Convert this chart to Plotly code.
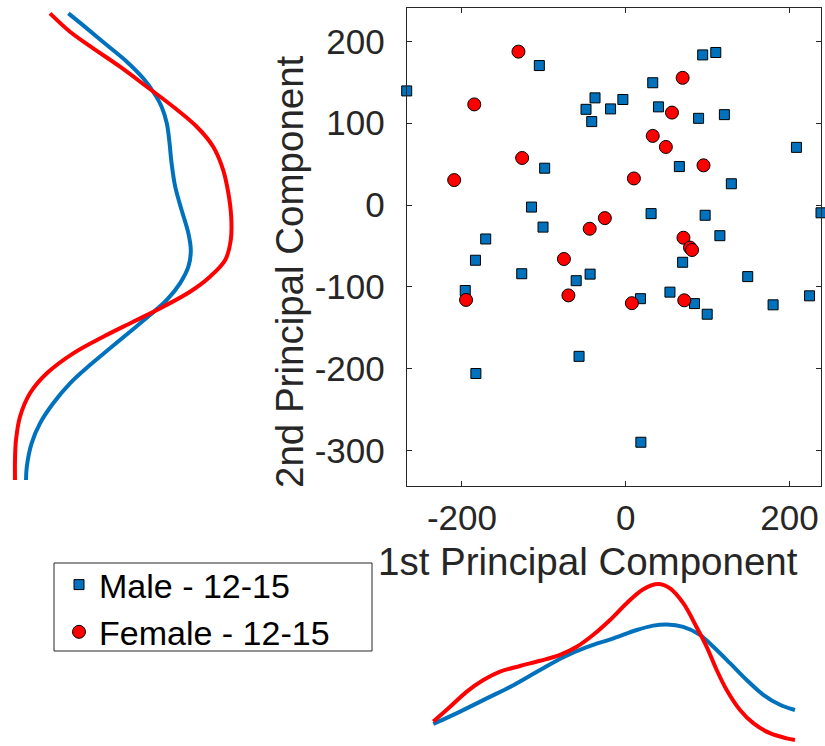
import plotly.graph_objects as go

# ---- scatter data: principal-component scores ----
male_pc1 = [-267.5, -105.5, 94, 110, 33, -37.5, -3.5, -48.5, -18.5, 40, -41.5, 89, 120.5,
            208.5, -99, 65.5, 129, -115, 31, 97, 238.5, -101, -171, 115,
            -183.5, 69.5, -127, -43.5, 149, -60.5, -196, 54, 18, 224.5, 84, 180, 99.5,
            -57, -183, 18.5]
male_pc2 = [139.5, 170.5, 183.5, 186.5, 149.5, 131, 129, 117, 117.5, 120, 102, 106, 110.5,
            70.5, 45, 47, 26, -2.5, -10.5, -12.5, -9.5, -27, -41.5, -37.5,
            -67.5, -70, -84, -84.5, -87.5, -92.5, -104.5, -106.5, -114.5, -111, -120.5,
            -122, -133.5, -185, -206, -290]

female_pc1 = [-131, -185, 69.5, 56.5, 33, 49, -126.5, 95, -209.5, 10, -25.5, -44, 70.5,
              78.5, 81, -75.5, -195, -70, 7.5, 71.5]
female_pc2 = [187.5, 123, 155.5, 113, 84.5, 71, 57.5, 48.5, 30.5, 32.5, -16, -29, -40,
              -52, -55, -66, -116, -110.5, -120, -116.5]

# ---- marginal density of PC1 (bottom panel, arbitrary units) ----
dens_x_grid_male = [-235, -202.3, -169.7, -137.2, -104.6, -76.2, -47.6, -15.1, 13.4, 33.7,
                    50.1, 70.3, 90.7, 107, 127.4, 147.7, 168, 188.4, 206.7]
dens_x_male = [0.55, 0.86, 1.19, 1.52, 1.90, 2.22, 2.47, 2.69, 2.90, 3.01,
               3.04, 2.98, 2.78, 2.48, 2.07, 1.65, 1.28, 1.03, 0.90]
dens_x_grid_female = [-235, -214.5, -194.1, -173.9, -153.5, -129.1, -104.6, -80.2, -59.8,
                      -39.6, -19.2, 1.2, 21.5, 39.8, 54.1, 70.3, 86.3, 98.9, 111.1, 123.3,
                      139.6, 155.8, 176.2, 196.6, 206.7]
dens_x_female = [0.61, 0.98, 1.36, 1.65, 1.86, 2.00, 2.13, 2.28, 2.48,
                 2.78, 3.15, 3.57, 3.92, 4.05, 3.94, 3.57, 2.98, 2.48, 1.90, 1.40,
                 0.90, 0.57, 0.32, 0.19, 0.15]

# ---- marginal density of PC2 (left panel, arbitrary units) ----
dens_y_grid_male = [234.3, 216.0, 195.6, 175.2, 154.9, 138.5, 120.2, 99.9, 79.5, 51.0, 22.4,
                    -6.1, -34.6, -55.0, -75.4, -95.7, -116.1, -134.5, -154.9, -175.2,
                    -195.6, -218.0, -242.4, -266.9, -291.3, -319.9, -336.2]
dens_y_male = [1.71, 2.17, 2.67, 3.17, 3.58, 3.83, 4.04, 4.17, 4.23, 4.29, 4.38,
               4.54, 4.71, 4.77, 4.71, 4.50, 4.17, 3.75, 3.25, 2.75,
               2.25, 1.75, 1.33, 1.00, 0.79, 0.67, 0.65]
dens_y_grid_female = [234.3, 211.9, 191.6, 169.1, 144.6, 120.2, 95.7, 71.3, 42.8, 14.3,
                      -14.3, -42.8, -67.2, -87.6, -106.0, -124.3, -142.7, -161.0, -181.3,
                      -205.7, -230.2, -258.8, -287.3, -311.7, -336.2]
dens_y_female = [1.25, 1.75, 2.33, 3.00, 3.67, 4.33, 4.92, 5.33, 5.58, 5.71,
                 5.78, 5.77, 5.63, 5.25, 4.75, 4.08, 3.33, 2.58, 1.83,
                 1.17, 0.75, 0.50, 0.40, 0.375, 0.375]

x_ticks = [-200, 0, 200]
x_tick_text = ["-200", "0", "200"]
y_ticks = [-300, -200, -100, 0, 100, 200]
y_tick_text = ["-300", "-200", "-100", "0", "100", "200"]

BLUE = "#0072BD"
RED = "#FF0000"
INK = "#262626"
FONT = "Liberation Sans, Arial, Helvetica, sans-serif"

X_RANGE = [-267.5, 238.5]
Y_RANGE = [-343.5, 240.5]

fig = go.Figure()

fig.add_trace(go.Scatter(
    x=male_pc1, y=male_pc2, mode="markers", name="Male - 12-15",
    marker=dict(symbol="square", size=10, color=BLUE, line=dict(color="black", width=1)),
    cliponaxis=False, xaxis="x", yaxis="y"))
fig.add_trace(go.Scatter(
    x=female_pc1, y=female_pc2, mode="markers", name="Female - 12-15",
    marker=dict(symbol="circle", size=13, color=RED, line=dict(color="black", width=1)),
    cliponaxis=False, xaxis="x", yaxis="y"))

# left marginal (PC2)
fig.add_trace(go.Scatter(x=dens_y_male, y=dens_y_grid_male, mode="lines",
                         line=dict(color=BLUE, width=4, shape="spline"),
                         showlegend=False, xaxis="x2", yaxis="y2"))
fig.add_trace(go.Scatter(x=dens_y_female, y=dens_y_grid_female, mode="lines",
                         line=dict(color=RED, width=4, shape="spline"),
                         showlegend=False, xaxis="x2", yaxis="y2"))

# bottom marginal (PC1)
fig.add_trace(go.Scatter(x=dens_x_grid_male, y=dens_x_male, mode="lines",
                         line=dict(color=BLUE, width=4, shape="spline"),
                         showlegend=False, xaxis="x3", yaxis="y3"))
fig.add_trace(go.Scatter(x=dens_x_grid_female, y=dens_x_female, mode="lines",
                         line=dict(color=RED, width=4, shape="spline"),
                         showlegend=False, xaxis="x3", yaxis="y3"))

W, H = 825, 746
main_x_dom = [406.7 / W, 821 / W]
main_y_dom = [1 - 486 / H, 1 - 8.3 / H]

frame = dict(showline=True, linecolor=INK, linewidth=1, mirror="ticks",
             ticks="inside", ticklen=5, tickcolor=INK, tickwidth=1,
             showgrid=False, zeroline=False,
             tickfont=dict(family=FONT, size=35, color=INK))
hidden = dict(visible=False, showgrid=False, zeroline=False)

fig.update_layout(
    width=W, height=H, autosize=False,
    margin=dict(l=0, r=0, t=0, b=0),
    paper_bgcolor="white", plot_bgcolor="rgba(0,0,0,0)",
    font=dict(family=FONT, color="black"),
    xaxis=dict(domain=main_x_dom, range=X_RANGE, tickvals=x_ticks, ticktext=x_tick_text,
               ticklabelstandoff=1, anchor="y", **frame),
    yaxis=dict(domain=main_y_dom, range=Y_RANGE, tickvals=y_ticks, ticktext=y_tick_text,
               ticklabelstandoff=14, anchor="x", **frame),
    xaxis2=dict(domain=[0, 250 / W], range=[0, 6.25], anchor="y2", **hidden),
    yaxis2=dict(domain=main_y_dom, range=Y_RANGE, anchor="x2", **hidden),
    xaxis3=dict(domain=main_x_dom, range=X_RANGE, anchor="y3", **hidden),
    yaxis3=dict(domain=[0, 171 / H], range=[0, 171 / 40], anchor="x3", **hidden),
    legend=dict(x=59 / W, y=1 - 556 / H, xanchor="left", yanchor="top",
                bgcolor="rgba(0,0,0,0)", borderwidth=0,
                tracegroupgap=0, itemwidth=30,
                font=dict(family=FONT, size=34, color="black")),
    showlegend=True,
    shapes=[
        # legend frame
        dict(type="rect", xref="paper", yref="paper",
             x0=54 / W, x1=372 / W, y0=1 - 651 / H, y1=1 - 563 / H,
             line=dict(color=INK, width=1), fillcolor="white", layer="below"),
    ],
    annotations=[
        dict(text="1st Principal Component", x=587.5 / W, y=1 - 561 / H,
             xref="paper", yref="paper", xanchor="center", yanchor="middle",
             showarrow=False, font=dict(family=FONT, size=38.5, color=INK)),
        dict(text="2nd Principal Component", x=289 / W, y=1 - 272 / H,
             xref="paper", yref="paper", xanchor="center", yanchor="middle",
             textangle=-90, showarrow=False, font=dict(family=FONT, size=38.5, color=INK)),
    ],
)

fig.write_html("out.html")
